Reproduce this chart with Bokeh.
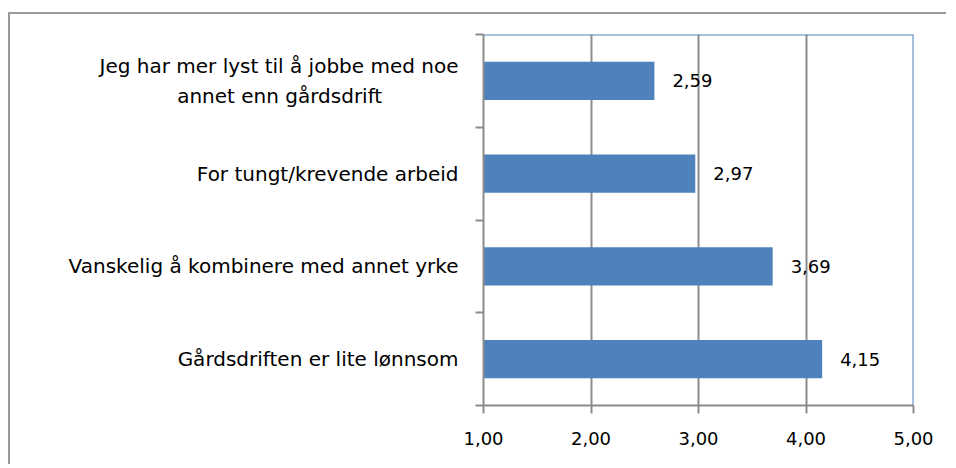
from bokeh.plotting import figure
from bokeh.models import ColumnDataSource, Range1d, FixedTicker, LabelSet, Span
from bokeh.core.properties import value
from bokeh.embed import file_html
from bokeh.resources import INLINE

categories = [
    "Jeg har mer lyst til å jobbe med noe\nannet enn gårdsdrift",
    "For tungt/krevende arbeid",
    "Vanskelig å kombinere med annet yrke",
    "Gårdsdriften er lite lønnsom",
]
values = [2.59, 2.97, 3.69, 4.15]
x_ticks = [1, 2, 3, 4, 5]
x_tick_labels = ["1,00", "2,00", "3,00", "4,00", "5,00"]

FONT = "DejaVu Sans"
BLUE = "#4F81BD"
GRAY = "#8C8C8C"
NBSP = "\u00a0"

n = len(categories)
pos = [i + 0.5 for i in range(n)]
src = ColumnDataSource(dict(
    y=pos,
    v=values,
    left=[x_ticks[0]] * n,
    lab=[f"{v:.2f}".replace(".", ",") for v in values],
))


def centered(label):
    # pad the second line so that the right-aligned block looks centred
    lines = label.split("\n")
    if len(lines) == 1:
        return label
    pad = (len(lines[0]) - len(lines[1])) // 2 + 4
    return lines[0] + "\n" + lines[1] + NBSP * pad


p = figure(width=938, height=452, output_backend="svg", toolbar_location=None,
           x_range=Range1d(x_ticks[0], x_ticks[-1]),
           y_range=Range1d(n, 0),
           min_border_left=473, min_border_right=35,
           min_border_top=20, min_border_bottom=61)
p.outline_line_color = None
p.background_fill_color = "white"
p.border_fill_color = "white"
p.styles = {"border-left": "2px solid #9A9A9A", "border-top": "2px solid #9A9A9A",
            "margin-top": "12px", "margin-left": "8px"}

p.hbar(y="y", left="left", right="v", height=0.41, source=src,
       fill_color=BLUE, line_color=None)

# value labels
p.add_layout(LabelSet(x="v", y="y", text="lab", source=src, x_offset=18,
                      text_baseline="middle", text_font=value(FONT),
                      text_font_size="18px", text_color="black"))

# x axis
xa = p.xaxis[0]
xa.ticker = FixedTicker(ticks=x_ticks, minor_ticks=[])
xa.major_label_overrides = {t: l for t, l in zip(x_ticks, x_tick_labels)}
xa.axis_line_color = GRAY
xa.axis_line_width = 2
xa.major_tick_line_color = GRAY
xa.major_tick_line_width = 2
xa.major_tick_out = 8
xa.major_tick_in = 0
xa.major_label_standoff = 18
xa.major_label_text_font = FONT
xa.major_label_text_font_size = "18px"
xa.major_label_text_color = "black"

# y axis: category labels at bar centres, ticks at category boundaries
ya = p.yaxis[0]
ya.ticker = FixedTicker(ticks=pos, minor_ticks=list(range(n + 1)))
ya.major_label_overrides = {y: centered(c) for y, c in zip(pos, categories)}
ya.axis_line_color = GRAY
ya.axis_line_width = 2
ya.major_tick_line_color = None
ya.major_tick_out = 0
ya.major_tick_in = 0
ya.minor_tick_line_color = GRAY
ya.minor_tick_line_width = 2
ya.minor_tick_out = 8
ya.minor_tick_in = 0
ya.major_label_standoff = 17
ya.major_label_text_font = FONT
ya.major_label_text_font_size = "20px"
ya.major_label_text_line_height = 1.25
ya.major_label_text_color = "black"

p.ygrid.visible = False
p.xgrid.ticker = FixedTicker(ticks=x_ticks[1:-1])
p.xgrid.grid_line_color = GRAY
p.xgrid.grid_line_width = 2

p.add_layout(Span(location=x_ticks[-1], dimension="height", line_color=BLUE, line_width=2))
p.add_layout(Span(location=0, dimension="width", line_color=BLUE, line_width=2))

open("out.html", "w").write(file_html(p, INLINE))
